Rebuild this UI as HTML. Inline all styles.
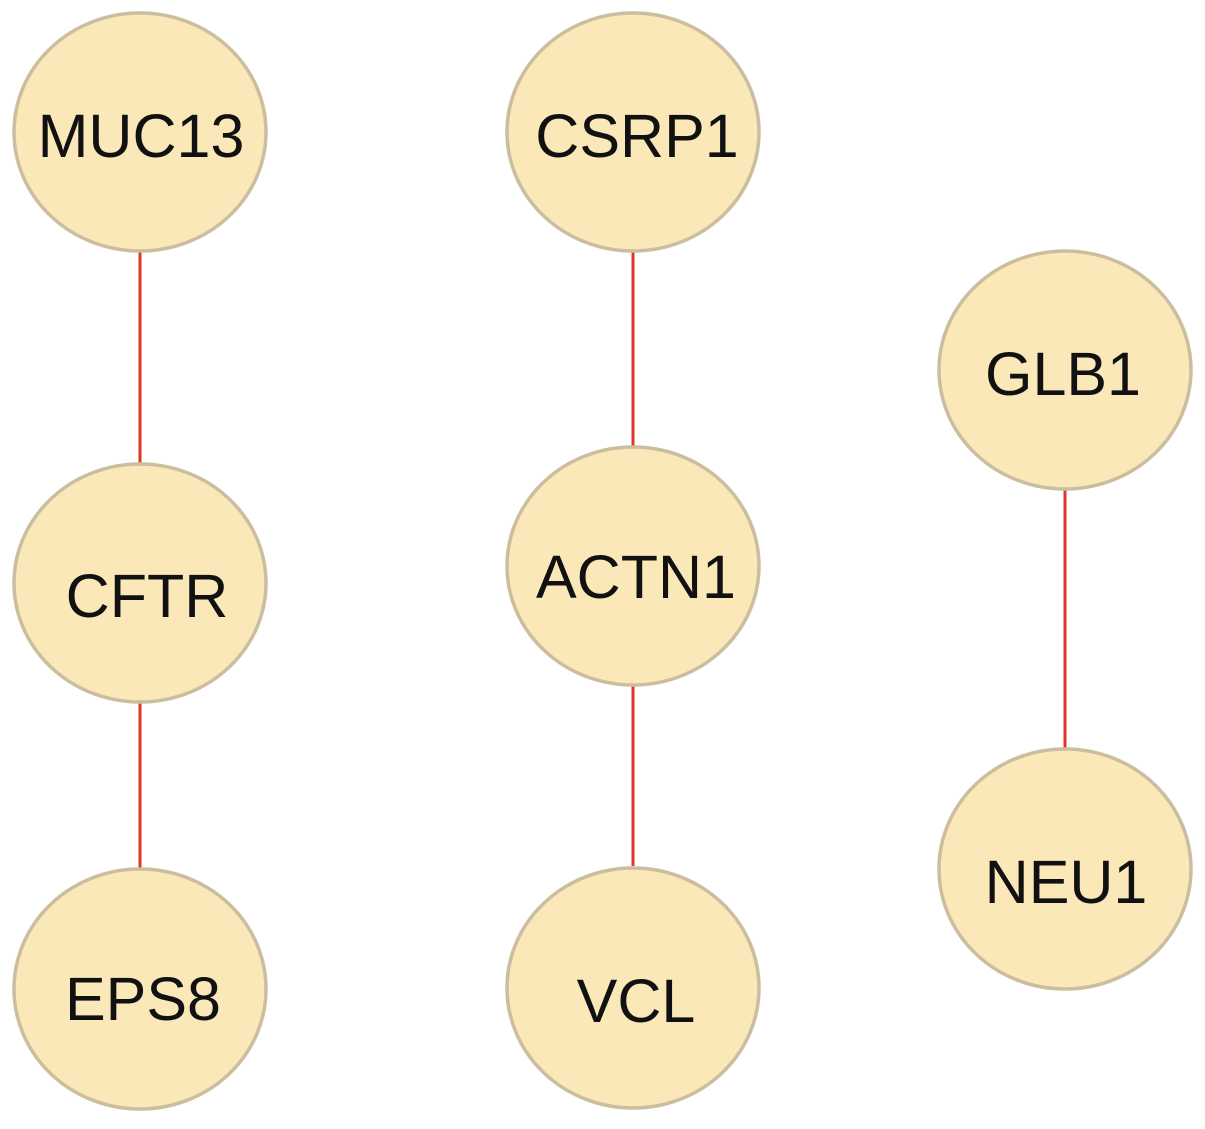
<!DOCTYPE html>
<html><head><style>body{margin:0;background:#fff}</style></head><body>
<svg width="1205" height="1124" viewBox="0 0 1205 1124" xmlns="http://www.w3.org/2000/svg">
<g stroke="#e0352b" stroke-width="3">
<line x1="140" y1="252" x2="140" y2="463"/>
<line x1="140" y1="703" x2="140" y2="868"/>
<line x1="633" y1="252" x2="633" y2="446"/>
<line x1="633" y1="686" x2="633" y2="866"/>
<line x1="1065" y1="490" x2="1065" y2="748"/>
</g>
<g fill="#fbe8b9" stroke="#cbbe9f" stroke-width="3.5">
<ellipse cx="140" cy="132" rx="126" ry="119"/>
<ellipse cx="140" cy="583" rx="126" ry="119"/>
<ellipse cx="140" cy="989" rx="126" ry="120"/>
<ellipse cx="633" cy="132" rx="126" ry="119"/>
<ellipse cx="633" cy="566" rx="126" ry="119"/>
<ellipse cx="633" cy="988" rx="126" ry="120"/>
<ellipse cx="1065" cy="370" rx="126" ry="119"/>
<ellipse cx="1065" cy="869" rx="126" ry="120"/>
</g>
<g font-family="Liberation Sans, sans-serif" font-size="61" fill="#111" text-anchor="middle">
<text x="141" y="157">MUC13</text>
<text x="147" y="617">CFTR</text>
<text x="143" y="1020">EPS8</text>
<text x="637" y="157">CSRP1</text>
<text x="636" y="598">ACTN1</text>
<text x="636" y="1022">VCL</text>
<text x="1063" y="395">GLB1</text>
<text x="1066" y="903">NEU1</text>
</g>
</svg>
</body></html>
